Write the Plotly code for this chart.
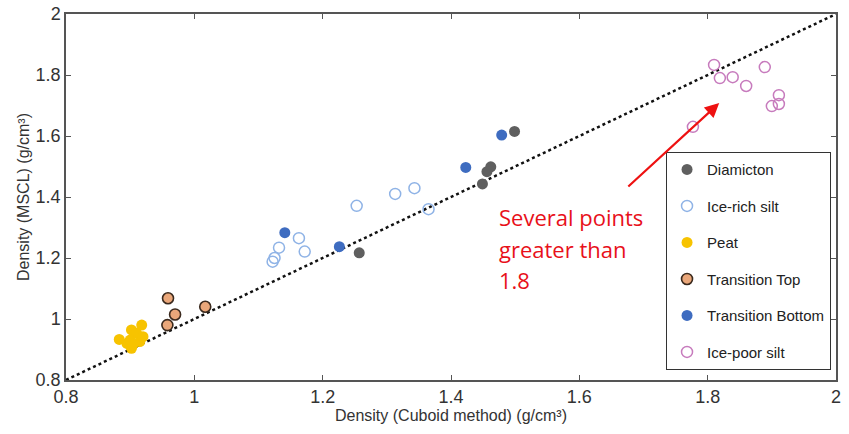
import plotly.graph_objects as go

# ---- data ----
diam_x = [1.499, 1.462, 1.456, 1.449, 1.257]
diam_y = [1.615, 1.499, 1.483, 1.443, 1.217]

icerich_x = [1.313, 1.343, 1.253, 1.365, 1.163, 1.132, 1.172, 1.122, 1.125]
icerich_y = [1.410, 1.429, 1.371, 1.360, 1.265, 1.234, 1.221, 1.188, 1.200]

peat_x = [0.883, 0.902, 0.918, 0.910, 0.900, 0.915, 0.902, 0.895, 0.920, 0.904]
peat_y = [0.933, 0.964, 0.980, 0.953, 0.931, 0.926, 0.904, 0.920, 0.942, 0.915]

ttop_x = [0.959, 1.017, 0.970, 0.958]
ttop_y = [1.068, 1.040, 1.015, 0.980]

tbot_x = [1.479, 1.423, 1.141, 1.226]
tbot_y = [1.603, 1.497, 1.283, 1.237]

icepoor_x = [1.810, 1.819, 1.839, 1.860, 1.889, 1.911, 1.900, 1.911, 1.777]
icepoor_y = [1.833, 1.790, 1.793, 1.764, 1.826, 1.734, 1.698, 1.705, 1.630]

one_to_one = [0.8, 2.0]
ticks = [0.8, 1.0, 1.2, 1.4, 1.6, 1.8, 2.0]
tick_labels = ["0.8", "1", "1.2", "1.4", "1.6", "1.8", "2"]

note_lines = ["Several points", "greater than", "1.8"]
note_x = 1.472
note_y = [1.334, 1.229, 1.128]
arrow_tail = (1.674, 1.430)
arrow_tip = (1.818, 1.708)

fig = go.Figure()

fig.add_trace(go.Scatter(x=one_to_one, y=one_to_one, mode="lines",
                         line=dict(color="#111111", width=2.5, dash="dot"),
                         showlegend=False, hoverinfo="skip"))

ms = 11
series = [
    ("Diamicton", diam_x, diam_y, dict(symbol="circle", size=ms, color="#5f5f5f",
                                        line=dict(width=0))),
    ("Ice-rich silt", icerich_x, icerich_y, dict(symbol="circle-open", size=ms, color="#8fb3e6",
                                                 line=dict(width=1.5))),
    ("Peat", peat_x, peat_y, dict(symbol="circle", size=ms, color="#f7c300",
                                  line=dict(width=0))),
    ("Transition Top", ttop_x, ttop_y, dict(symbol="circle", size=ms, color="#eaa77a",
                                            line=dict(width=1.6, color="#3b2a1e"))),
    ("Transition Bottom", tbot_x, tbot_y, dict(symbol="circle", size=ms, color="#3e6cc0",
                                               line=dict(width=0))),
    ("Ice-poor silt", icepoor_x, icepoor_y, dict(symbol="circle-open", size=ms, color="#c77bbd",
                                                 line=dict(width=1.5))),
]
for name, xs, ys, mk in series:
    fig.add_trace(go.Scatter(x=xs, y=ys, mode="markers", name=name, marker=mk,
                             legendgroup=name))

for txt, yy in zip(note_lines, note_y):
    fig.add_annotation(x=note_x, y=yy, text=txt, showarrow=False, xanchor="left",
                       yanchor="middle",
                       font=dict(family="Open Sans", size=22, color="#e8101a"))

fig.add_annotation(x=arrow_tip[0], y=arrow_tip[1], ax=arrow_tail[0], ay=arrow_tail[1],
                   xref="x", yref="y", axref="x", ayref="y", text="", showarrow=True,
                   arrowhead=2, arrowsize=1.3, arrowwidth=2.2, arrowcolor="#ee1111")

axis_common = dict(range=[0.8, 2.0], tickvals=ticks, ticktext=tick_labels,
                   showgrid=False, zeroline=False, showline=True, linecolor="#555555",
                   linewidth=1.5, mirror="ticks", ticks="inside", ticklen=5,
                   tickcolor="#555555", tickwidth=1, automargin=False,
                   ticklabeloverflow="allow",
                   tickfont=dict(family="Liberation Sans", size=18, color="#333333"))

fig.update_xaxes(**axis_common,
                 title=dict(text="Density (Cuboid method) (g/cm³)", standoff=0,
                            font=dict(family="Liberation Sans", size=16, color="#333333")))
fig.update_yaxes(**axis_common,
                 title=dict(text="Density (MSCL) (g/cm³)", standoff=2,
                            font=dict(family="Liberation Sans", size=16, color="#333333")))

fig.update_layout(
    width=849, height=434,
    margin=dict(l=66, r=13, t=14, b=54),
    plot_bgcolor="white", paper_bgcolor="white",
    showlegend=True,
    legend=dict(x=0.779, y=0.623, xanchor="left", yanchor="top",
                bgcolor="white", bordercolor="#333333", borderwidth=1.2,
                tracegroupgap=14,
                font=dict(family="Liberation Sans", size=15, color="#222222")),
)

fig.write_html("out.html", config={"displayModeBar": False},
               post_script="document.body.style.margin='0';")
